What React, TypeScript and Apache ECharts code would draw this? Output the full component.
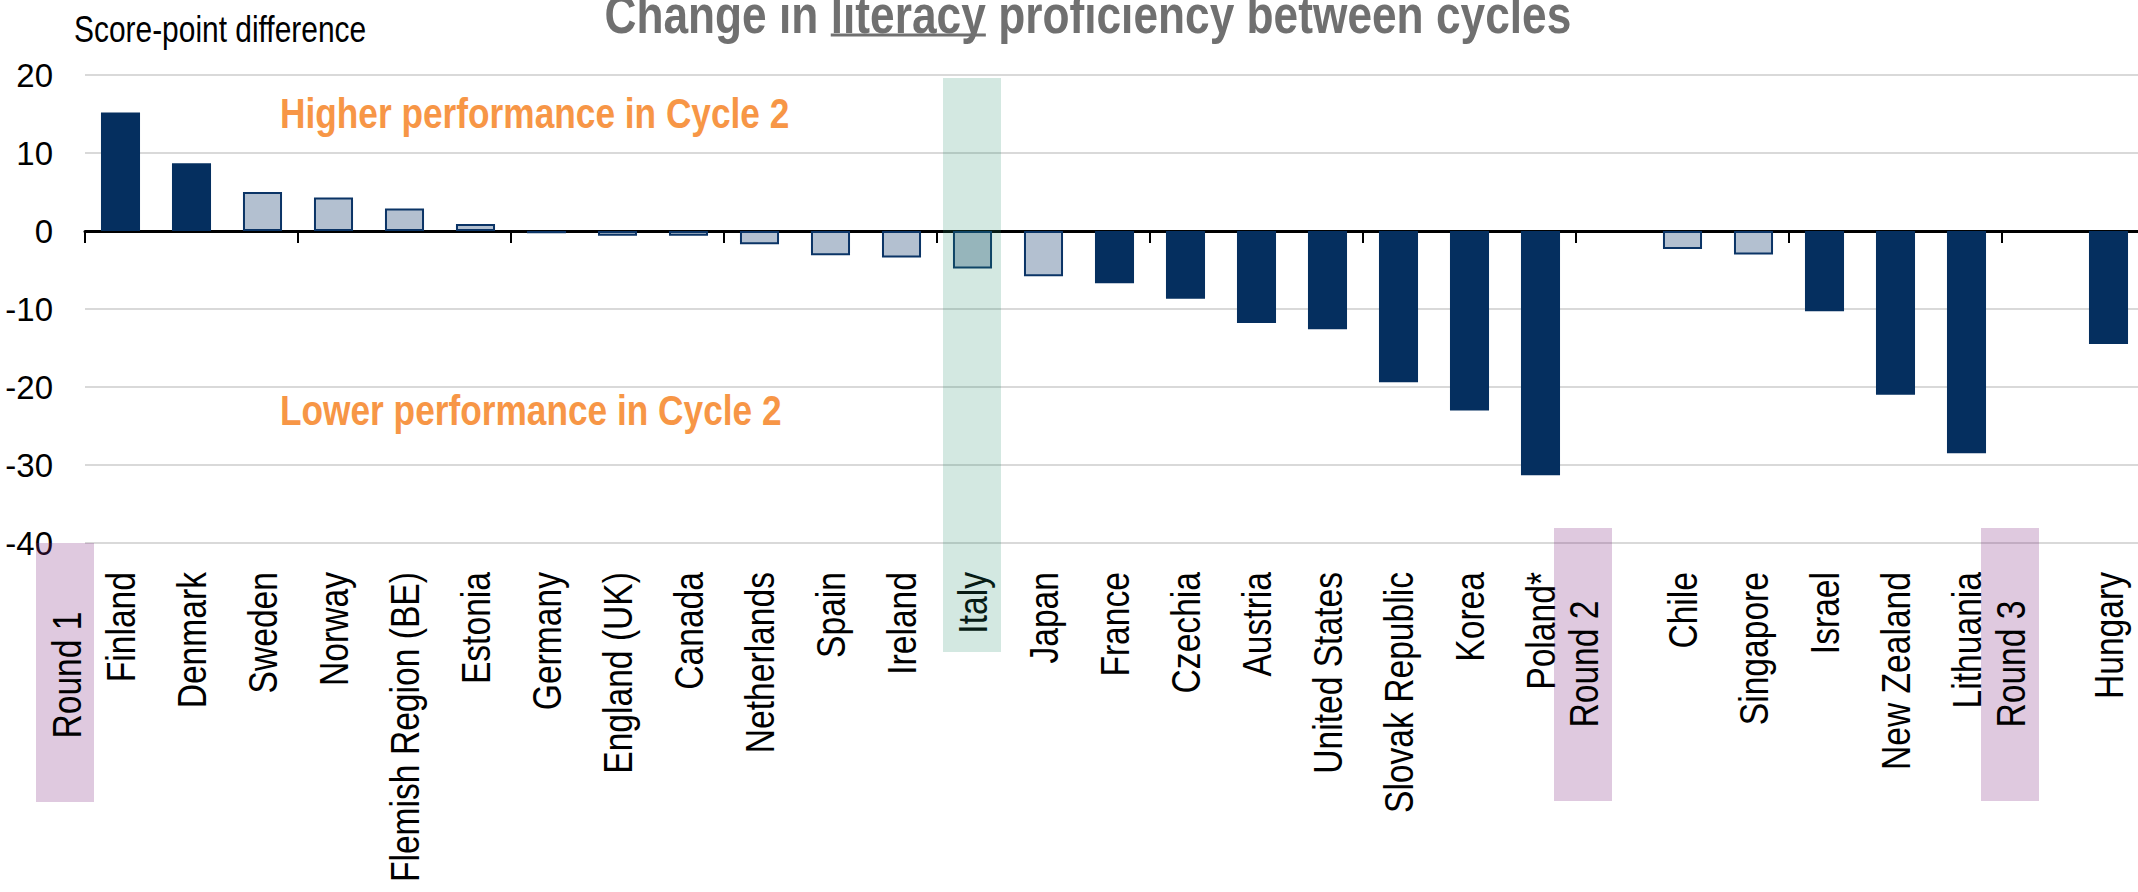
import React, { useEffect, useRef } from "react";
import * as echarts from "echarts";

const categories = [
  "Finland", "Denmark", "Sweden", "Norway", "Flemish Region (BE)", "Estonia", "Germany",
  "England (UK)", "Canada", "Netherlands", "Spain", "Ireland", "Italy", "Japan", "France",
  "Czechia", "Austria", "United States", "Slovak Republic", "Korea", "Poland*", "",
  "Chile", "Singapore", "Israel", "New Zealand", "Lithuania", "", "Hungary",
];
const values: (number | null)[] = [
  15.2, 8.7, 5.0, 4.3, 2.9, 0.9, -0.3,
  -0.6, -0.6, -1.7, -3.1, -3.4, -4.8, -5.8, -6.7,
  -8.7, -11.8, -12.6, -19.4, -23.0, -31.3, null,
  -2.3, -3.0, -10.3, -21.0, -28.5, null, -14.5,
];
const significant = [
  true, true, false, false, false, false, false,
  false, false, false, false, false, false, false, true,
  true, true, true, true, true, true, false,
  false, false, true, true, true, false, true,
];
const yMin = -40;
const yMax = 20;
const yStep = 10;
const roundLabels = ["Round 1", "Round 2", "Round 3"];
const titleParts = ["Change in ", "literacy", " proficiency between cycles"];
const yAxisName = "Score-point difference";
const higherText = "Higher performance in Cycle 2";
const lowerText = "Lower performance in Cycle 2";

const SANS = "'Liberation Sans', Arial, sans-serif";
const NARROW_SCALE = 0.82;
const DARK = "#052f5f";
const LIGHT = "#b3c0d0";
const ORANGE = "#f79646";

function measure(text: string, font: string): number {
  const ctx = document.createElement("canvas").getContext("2d");
  if (!ctx) return text.length * 20;
  ctx.font = font;
  return ctx.measureText(text).width;
}

export default function App() {
  const ref = useRef<HTMLDivElement>(null);

  useEffect(() => {
    if (!ref.current) return;
    const chart = echarts.init(ref.current, undefined, { renderer: "svg" });

    const option: any = {
      animation: false,
      backgroundColor: "#fff",
      textStyle: { fontFamily: SANS },
      grid: { left: 85, top: 75, right: -6, bottom: 349, containLabel: false, outerBoundsMode: "none" },
      xAxis: {
        type: "category",
        data: categories,
        position: "bottom",
        axisLine: { show: true, onZero: true, lineStyle: { color: "#000", width: 3 } },
        axisTick: { show: true, length: 12, alignWithLabel: false, lineStyle: { color: "#000", width: 2 } },
        axisLabel: { show: false },
        splitLine: { show: false },
      },
      yAxis: {
        type: "value",
        min: yMin,
        max: yMax,
        interval: yStep,
        axisLine: { show: false },
        axisTick: { show: false },
        axisLabel: { fontSize: 33, color: "#000", margin: 32, fontFamily: SANS },
        splitLine: { lineStyle: { color: "#d9d9d9", width: 2 } },
      },
      series: [
        {
          type: "bar",
          barWidth: "55%",
          z: 5,
          data: values.map((v, i) => ({
            value: v,
            itemStyle: significant[i]
              ? { color: DARK }
              : { color: LIGHT, borderColor: "#0b3466", borderWidth: 2 },
          })),
        },
      ],
    };
    chart.setOption(option);

    const graphics: any[] = [];

    // title
    const titleSize = 54;
    const titleFont = `bold ${titleSize}px ${SANS}`;
    const widths = titleParts.map((t) => measure(t, titleFont) * NARROW_SCALE);
    const total = widths[0] + widths[1] + widths[2];
    const titleBaseline = 32.5;
    const titleY = titleBaseline - 0.3465 * titleSize;
    const titleColor = "#707070";
    let cx = 1088 - total / 2;
    titleParts.forEach((t, i) => {
      graphics.push({
        type: "text",
        x: cx,
        y: titleY,
        scaleX: NARROW_SCALE,
        z: 50,
        style: { text: t, fill: titleColor, font: titleFont, align: "left", verticalAlign: "middle" },
      });
      if (i === 1) {
        graphics.push({
          type: "line",
          z: 50,
          shape: { x1: cx, y1: titleBaseline + 2.5, x2: cx + widths[1], y2: titleBaseline + 2.5 },
          style: { stroke: titleColor, lineWidth: 3 },
        });
      }
      cx += widths[i];
    });

    graphics.push({
      type: "text",
      x: 74,
      y: 41.7 - 0.3465 * 36.5,
      scaleX: NARROW_SCALE,
      z: 50,
      style: { text: yAxisName, fill: "#000", font: `36.5px ${SANS}`, align: "left", verticalAlign: "middle" },
    });
    graphics.push({
      type: "text",
      x: 280,
      y: 128 - 0.3465 * 43,
      scaleX: NARROW_SCALE,
      z: 50,
      style: { text: higherText, fill: ORANGE, font: `bold 43px ${SANS}`, align: "left", verticalAlign: "middle" },
    });
    graphics.push({
      type: "text",
      x: 280,
      y: 425 - 0.3465 * 43,
      scaleX: NARROW_SCALE,
      z: 50,
      style: { text: lowerText, fill: ORANGE, font: `bold 43px ${SANS}`, align: "left", verticalAlign: "middle" },
    });

    // category labels, placed through the category axis
    const yBottom = chart.convertToPixel({ yAxisIndex: 0 }, yMin) as number;
    const labelFont = `41px ${SANS}`;
    categories.forEach((c, i) => {
      if (!c) return;
      const px = chart.convertToPixel({ xAxisIndex: 0 }, i) as number;
      graphics.push({
        type: "text",
        x: px,
        y: yBottom + 29,
        rotation: Math.PI / 2,
        scaleX: NARROW_SCALE,
        z: 30,
        style: { text: c, fill: "#000", font: labelFont, align: "right", verticalAlign: "middle" },
      });
    });

    // highlight boxes
    graphics.push({
      type: "rect",
      z: 40,
      shape: { x: 943, y: 78, width: 58, height: 574 },
      style: { fill: "rgba(35,139,105,0.2)" },
    });
    const roundBoxes = [
      { x: 36, y: 543, h: 259, tx: 67, ty: 675 },
      { x: 1554, y: 528, h: 273, tx: 1584, ty: 664 },
      { x: 1981, y: 528, h: 273, tx: 2011, ty: 664 },
    ];
    roundBoxes.forEach((b, i) => {
      graphics.push({
        type: "rect",
        z: 40,
        shape: { x: b.x, y: b.y, width: 58, height: b.h },
        style: { fill: "rgba(128,40,128,0.25)" },
      });
      graphics.push({
        type: "text",
        x: b.tx,
        y: b.ty,
        rotation: Math.PI / 2,
        scaleX: NARROW_SCALE,
        z: 41,
        style: { text: roundLabels[i], fill: "#000", font: labelFont, align: "center", verticalAlign: "middle" },
      });
    });

    chart.setOption({ graphic: graphics });
    return () => chart.dispose();
  }, []);

  return (
    <div
      ref={ref}
      style={{ position: "fixed", left: 0, top: 0, width: 2138, height: 892, background: "#fff" }}
    />
  );
}
